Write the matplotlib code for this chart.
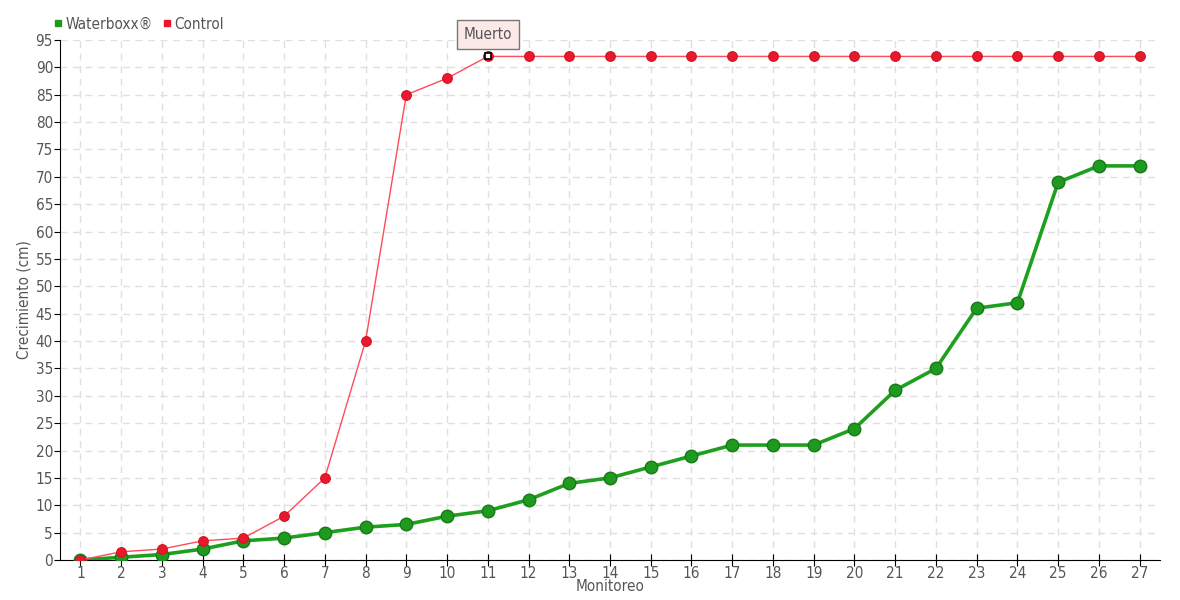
import matplotlib
matplotlib.use("Agg")
import matplotlib.pyplot as plt
from matplotlib.lines import Line2D

# datos del monitoreo
monitoreo = list(range(1, 28))
waterboxx = [0, 0.5, 1, 2, 3.5, 4, 5, 6, 6.5, 8, 9, 11, 14, 15, 17, 19,
             21, 21, 21, 24, 31, 35, 46, 47, 69, 72, 72]
control = [0, 1.5, 2, 3.5, 4, 8, 15, 40, 85, 88, 92, 92, 92, 92, 92, 92,
           92, 92, 92, 92, 92, 92, 92, 92, 92, 92, 92]
y_ticks = list(range(0, 100, 5))

plt.rcParams['font.family'] = ['DejaVu Sans']
plt.rcParams['font.stretch'] = 'condensed'
txt_color = '#555555'

fig = plt.figure(figsize=(11.8, 6), dpi=100)
ax = fig.add_axes([60 / 1180, 40 / 600, 1100 / 1180, 520 / 600])

ax.plot(monitoreo, waterboxx, color='#1ea01e', lw=2.6, marker='o', ms=9,
        markerfacecolor='#1e9a1e', markeredgecolor='#167a16', mew=1, zorder=3)
ax.plot(monitoreo, control, color='#ff4a5a', lw=1, marker='o', ms=7,
        markerfacecolor='#e8192c', markeredgecolor='#d01525', mew=0.8, zorder=4)

# punto resaltado
ax.plot([11], [92], marker='s', ms=5, markerfacecolor='white',
        markeredgecolor='black', mew=1.2, zorder=5)
ax.annotate('Muerto', xy=(11, 92), xytext=(11, 96.0), ha='center', va='center',
            fontsize=11, color=txt_color, annotation_clip=False,
            bbox=dict(boxstyle='square,pad=0.45', fc='#fde8e8', ec='#777777', lw=1),
            zorder=6)

ax.set_xlim(0.5, 27.5)
ax.set_ylim(0, 95)
ax.set_xticks(monitoreo)
ax.set_yticks(y_ticks)
ax.tick_params(axis='both', labelsize=11, labelcolor=txt_color, color='black')
ax.tick_params(axis='x', direction='inout', length=8, pad=0)
ax.tick_params(axis='y', length=4, pad=1)
ax.grid(True, color='#e0e0e0', linestyle=(0, (5, 4)), lw=1)
ax.set_axisbelow(True)
for s in ['top', 'right']:
    ax.spines[s].set_visible(False)
ax.spines['left'].set_color('black')
ax.spines['bottom'].set_color('black')

ax.set_xlabel('Monitoreo', fontsize=11, color=txt_color, labelpad=-1)
ax.set_ylabel('Crecimiento (cm)', fontsize=11, color=txt_color, labelpad=3)

handles = [Line2D([], [], ls='', marker='s', ms=5, color='#1e9a1e'),
           Line2D([], [], ls='', marker='s', ms=5, color='#e8192c')]
fig.legend(handles, ['Waterboxx®', 'Control'], loc='upper left',
           bbox_to_anchor=(40 / 1180, 0.995), ncol=2, frameon=False,
           handlelength=0.6, handletextpad=0.2, columnspacing=0.6,
           fontsize=11, labelcolor=txt_color)

fig.savefig('out.png', dpi=100)
